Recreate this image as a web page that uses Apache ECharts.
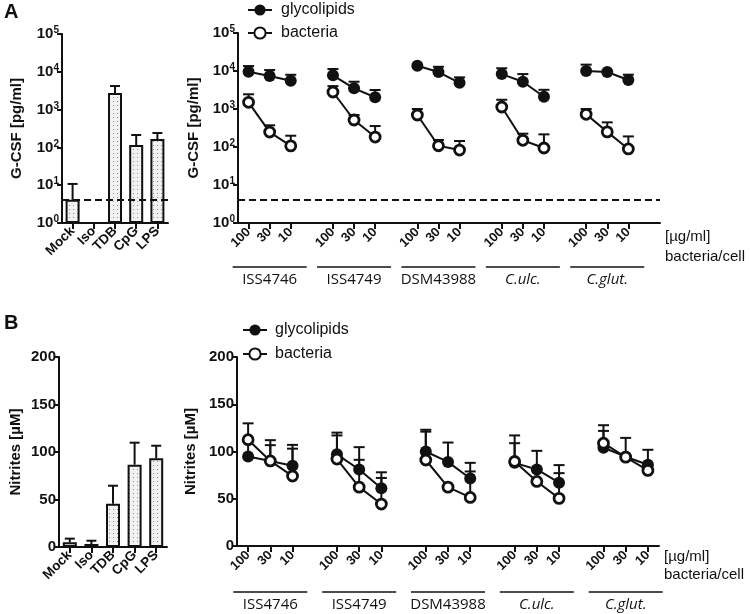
<!DOCTYPE html>
<html>
<head>
<meta charset="utf-8">
<script src="https://cdn.jsdelivr.net/npm/echarts@6/dist/echarts.min.js"></script>
<style>html,body{margin:0;padding:0;background:#fff;}#c{width:750px;height:614px;}</style>
</head>
<body>
<div id="c"></div>
<script>
// ---------- data ----------
const barCats = ['Mock', 'Iso', 'TDB', 'CpG', 'LPS'];
const gcsfBar = [4.1, null, 2750, 115, 167];
const gcsfBarErr = [10.8, null, 4200, 213, 240];
const nitBar = [5, 3.2, 45.6, 86.6, 93.4];
const nitBarErr = [8.8, 6.6, 64.5, 109.8, 106.6];

const doses = ['100', '30', '10'];
const groups = ['ISS4746', 'ISS4749', 'DSM43988', 'C.ulc.', 'C.glut.'];
const detectionLimit = 4;

const gcsfGly = [[9600, 7400, 5550], [7700, 3500, 2040], [13800, 9400, 4900], [8300, 5200, 2100], [10000, 9400, 5800]];
const gcsfGlyErr = [[13500, 10600, 7950], [11300, 5220, 3160], [null, 12900, 6800], [11800, 8300, 3200], [14700, null, 8000]];
const gcsfBac = [[1500, 247, 107], [2800, 514, 183], [695, 108, 83], [1130, 150, 94], [725, 250, 89]];
const gcsfBacErr = [[2440, 372, 198], [4000, 695, 356], [1000, 153, 144], [1750, 224, 215], [1000, 445, 190]];

const nitGly = [[94.7, 90, 85], [97, 81, 61], [100, 89, 71.5], [88, 81, 67], [104, 94.5, 86]];
const nitGlyErr = [[111, 112, 107], [120, 104.6, 78], [123, 109.5, 88], [117, 100.7, 85.6], [127.8, 114.4, 101.8]];
const nitBac = [[112.5, 90, 74], [92, 62.3, 44.4], [91, 62.3, 51.4], [89.4, 68.3, 50.4], [108.8, 94, 80]];
const nitBacErr = [[129.8, 106.7, 103], [117, 91.2, 72], [121, null, 78.9], [108.8, null, 77.1], [121.8, null, null]];

// ---------- helpers ----------
const INK = '#111';
const FONT = 'Liberation Sans';
const SLOT = 4; // 3 doses + 1 gap per group
function doseCategories(trailingGap) {
  const c = [];
  groups.forEach((g, gi) => {
    doses.forEach(d => c.push(d));
    if (gi < groups.length - 1 || trailingGap) c.push('');
  });
  return c;
}
const catsA = doseCategories(true);
const catsB = doseCategories(false);

function flat(vals, n) {
  const out = new Array(n).fill(null);
  vals.forEach((g, gi) => g.forEach((v, j) => { out[gi * SLOT + j] = v; }));
  return out;
}
function errData(vals, errs) {
  const out = [];
  vals.forEach((g, gi) => g.forEach((v, j) => {
    const e = errs[gi][j];
    if (v != null && e != null) out.push([gi * SLOT + j, v, e]);
  }));
  return out;
}
function barErrData(vals, errs) {
  const out = [];
  vals.forEach((v, i) => { if (v != null && errs[i] != null) out.push([i, v, errs[i]]); });
  return out;
}
function errSeries(xi, data, capW) {
  return {
    type: 'custom', xAxisIndex: xi, yAxisIndex: xi, z: 1, silent: true,
    data: data, encode: { x: 0, y: 1 },
    renderItem: function (params, api) {
      const p0 = api.coord([api.value(0), api.value(1)]);
      const p1 = api.coord([api.value(0), api.value(2)]);
      const st = { stroke: INK, lineWidth: 2 };
      return {
        type: 'group', children: [
          { type: 'line', shape: { x1: p0[0], y1: p0[1], x2: p1[0], y2: p1[1] }, style: st },
          { type: 'line', shape: { x1: p1[0] - capW / 2, y1: p1[1], x2: p1[0] + capW / 2, y2: p1[1] }, style: st }
        ]
      };
    }
  };
}
function makePattern() {
  const c = document.createElement('canvas');
  c.width = 4; c.height = 4;
  const x = c.getContext('2d');
  x.fillStyle = '#f2f2f2'; x.fillRect(0, 0, 4, 4);
  x.fillStyle = '#8f8f8f'; x.fillRect(1, 1, 1, 1);
  return c;
}
const pattern = { image: makePattern(), repeat: 'repeat' };

const axisLine = { show: true, lineStyle: { color: INK, width: 2 } };
const yTick = { show: true, length: 5, lineStyle: { color: INK, width: 2 } };
const logLabel = {
  color: INK, margin: 3,
  formatter: v => '{b|10}{s|' + Math.round(Math.log10(v)) + '}',
  rich: {
    b: { fontSize: 15, fontWeight: 'bold', color: INK, fontFamily: FONT },
    s: { fontSize: 10, fontWeight: 'bold', color: INK, fontFamily: FONT, verticalAlign: 'top', padding: [0, 0, 7, 0] }
  }
};
const linLabel = { color: INK, fontSize: 15, fontWeight: 'bold', fontFamily: FONT, margin: 3 };
const nameStyle = { color: INK, fontSize: 15, fontWeight: 'bold', fontFamily: FONT };
function doseXAxis(gi, cats) {
  return {
    gridIndex: gi, type: 'category', data: cats, boundaryGap: true,
    axisLine: axisLine,
    axisTick: { show: true, alignWithLabel: true, length: 6, lineStyle: { color: INK, width: 2 }, interval: (i, v) => v !== '' },
    axisLabel: { rotate: 45, interval: 0, color: INK, fontSize: 13, fontWeight: 'bold', fontFamily: FONT, margin: 7 },
    splitLine: { show: false }
  };
}
function barXAxis(gi) {
  return {
    gridIndex: gi, type: 'category', data: barCats,
    axisLine: axisLine,
    axisTick: { show: true, alignWithLabel: true, length: 6, lineStyle: { color: INK, width: 2 } },
    axisLabel: { rotate: 45, interval: 0, color: INK, fontSize: 13.5, fontWeight: 'bold', fontFamily: FONT, margin: 6 },
    splitLine: { show: false }
  };
}
const dashLine = {
  silent: true, symbol: 'none', label: { show: false },
  lineStyle: { color: INK, width: 2, type: [7, 4] },
  data: [{ yAxis: detectionLimit }]
};
function lineSeries(name, xi, data, filled) {
  return {
    name: name, type: 'line', xAxisIndex: xi, yAxisIndex: xi, z: 3,
    data: data, connectNulls: false,
    symbol: 'circle', symbolSize: filled ? 12 : 10,
    lineStyle: { color: INK, width: 2 },
    itemStyle: { color: filled ? INK : '#fff', borderColor: INK, borderWidth: filled ? 0 : 2.8 }
  };
}

const chart = echarts.init(document.getElementById('c'), null, { renderer: 'canvas' });
const option = {
  animation: false,
  backgroundColor: '#fff',
  textStyle: { fontFamily: FONT },
  grid: [
    { left: 62, top: 34, width: 106, height: 189 },
    { left: 238, top: 33, width: 422, height: 190 },
    { left: 59, top: 357, width: 108, height: 190 },
    { left: 237, top: 357, width: 422, height: 189 }
  ],
  legend: [
    {
      left: 247, top: 2, padding: 0, orient: 'vertical', itemWidth: 24, itemHeight: 14, itemGap: 7,
      selectedMode: false, data: ['glycolipids', 'bacteria'],
      textStyle: { color: INK, fontSize: 16, fontFamily: FONT, padding: [0, 0, 0, 4] }
    },
    {
      left: 242, top: 322, padding: 0, orient: 'vertical', itemWidth: 24, itemHeight: 14, itemGap: 8,
      selectedMode: false, data: ['glycolipids', 'bacteria'],
      textStyle: { color: INK, fontSize: 16, fontFamily: FONT, padding: [0, 0, 0, 3] }
    }
  ],
  xAxis: [barXAxis(0), doseXAxis(1, catsA), barXAxis(2), doseXAxis(3, catsB)],
  yAxis: [
    { gridIndex: 0, type: 'log', logBase: 10, min: 1, max: 100000, axisLine: axisLine, axisTick: yTick, axisLabel: logLabel, splitLine: { show: false }, minorTick: { show: false },
      name: 'G-CSF [pg/ml]', nameLocation: 'middle', nameGap: 38, nameTextStyle: nameStyle },
    { gridIndex: 1, type: 'log', logBase: 10, min: 1, max: 100000, axisLine: axisLine, axisTick: yTick, axisLabel: logLabel, splitLine: { show: false },
      name: 'G-CSF [pg/ml]', nameLocation: 'middle', nameGap: 36, nameTextStyle: nameStyle },
    { gridIndex: 2, type: 'value', min: 0, max: 200, interval: 50, axisLine: axisLine, axisTick: yTick, axisLabel: linLabel, splitLine: { show: false },
      name: 'Nitrites [µM]', nameLocation: 'middle', nameGap: 36, nameTextStyle: nameStyle },
    { gridIndex: 3, type: 'value', min: 0, max: 200, interval: 50, axisLine: axisLine, axisTick: yTick, axisLabel: linLabel, splitLine: { show: false },
      name: 'Nitrites [µM]', nameLocation: 'middle', nameGap: 37, nameTextStyle: nameStyle }
  ],
  series: [
    errSeries(0, barErrData(gcsfBar, gcsfBarErr), 10),
    { type: 'bar', xAxisIndex: 0, yAxisIndex: 0, data: gcsfBar, barWidth: 14, z: 2,
      itemStyle: { color: pattern, borderColor: INK, borderWidth: 2 }, markLine: dashLine },
    errSeries(2, barErrData(nitBar, nitBarErr), 10),
    { type: 'bar', xAxisIndex: 2, yAxisIndex: 2, data: nitBar, barWidth: 14, z: 2,
      itemStyle: { color: pattern, borderColor: INK, borderWidth: 2 } },

    errSeries(1, errData(gcsfGly, gcsfGlyErr), 11),
    errSeries(1, errData(gcsfBac, gcsfBacErr), 11),
    Object.assign(lineSeries('glycolipids', 1, flat(gcsfGly, catsA.length), true), { markLine: dashLine }),
    lineSeries('bacteria', 1, flat(gcsfBac, catsA.length), false),

    errSeries(3, errData(nitGly, nitGlyErr), 11),
    errSeries(3, errData(nitBac, nitBacErr), 11),
    lineSeries('glycolipids', 3, flat(nitGly, catsB.length), true),
    lineSeries('bacteria', 3, flat(nitBac, catsB.length), false)
  ]
};
chart.setOption(option);

// group labels under dose axes, positioned through the axis scale
function groupGraphics(xAxisIndex, lineY, textY) {
  const els = [];
  groups.forEach((g, gi) => {
    const xa = chart.convertToPixel({ xAxisIndex: xAxisIndex }, gi * SLOT);
    const xb = chart.convertToPixel({ xAxisIndex: xAxisIndex }, gi * SLOT + 2);
    const cx = (xa + xb) / 2;
    els.push({ type: 'line', shape: { x1: cx - 37, y1: lineY, x2: cx + 37, y2: lineY }, style: { stroke: INK, lineWidth: 1.5 } });
    els.push({ type: 'text', x: cx, y: textY, style: { text: g, fill: INK, font: (gi >= 3 ? 'italic ' : '') + '15px "Open Sans"', align: 'center', verticalAlign: 'middle' } });
  });
  return els;
}
const gA = chart.convertToPixel({ yAxisIndex: 1 }, 1);
const gB = chart.convertToPixel({ yAxisIndex: 3 }, 0);
const graphics = [].concat(
  groupGraphics(1, gA + 44, gA + 57),
  groupGraphics(3, gB + 46, gB + 59),
  [
    { type: 'text', x: 4, y: 12, style: { text: 'A', fill: INK, font: 'bold 20px "Liberation Sans"', verticalAlign: 'middle' } },
    { type: 'text', x: 4, y: 323, style: { text: 'B', fill: INK, font: 'bold 20px "Liberation Sans"', verticalAlign: 'middle' } },
    { type: 'text', x: 665, y: gA + 14, style: { text: '[µg/ml]', fill: INK, font: '15px "Liberation Sans"', verticalAlign: 'middle' } },
    { type: 'text', x: 665, y: gA + 34, style: { text: 'bacteria/cell', fill: INK, font: '15px "Liberation Sans"', verticalAlign: 'middle' } },
    { type: 'text', x: 664, y: gB + 11, style: { text: '[µg/ml]', fill: INK, font: '15px "Liberation Sans"', verticalAlign: 'middle' } },
    { type: 'text', x: 664, y: gB + 29, style: { text: 'bacteria/cell', fill: INK, font: '15px "Liberation Sans"', verticalAlign: 'middle' } }
  ]
);
chart.setOption({ graphic: graphics });
</script>
</body>
</html>
